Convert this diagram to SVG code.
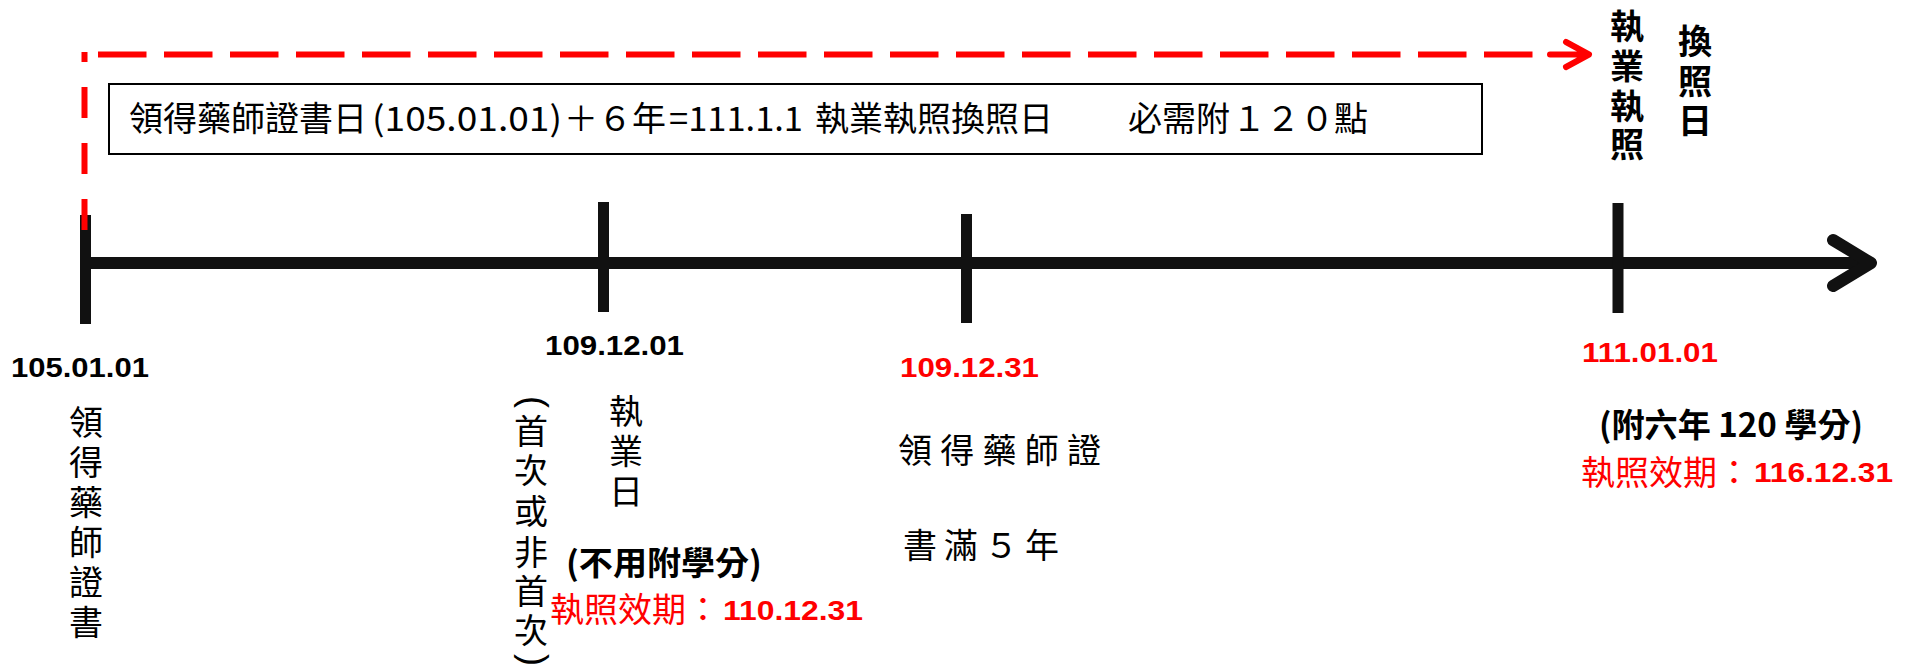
<svg xmlns="http://www.w3.org/2000/svg" width="1907" height="669" viewBox="0 0 1907 669">
<style>
.cjk{font-family:"Noto Sans CJK TC","Noto Sans CJK SC",sans-serif;fill:#000;}
.kai{font-size:34px;}
.date{font-family:"Liberation Sans","Noto Sans CJK TC",sans-serif;font-weight:700;font-size:28px;}
.blk{fill:#000;}
.red{fill:#ff0000;}
.b{font-weight:700;}
.vc{text-anchor:middle;}
.tick{stroke:#111;stroke-width:11;}
.redline{fill:none;stroke:#ff0000;stroke-width:6;}
.paren{font-family:"Liberation Sans",sans-serif;font-size:36px;text-anchor:middle;}
</style>
<rect width="1907" height="669" fill="#fff"/>

<g id="connectors">
  <line x1="80" y1="263" x2="1870" y2="263" stroke="#111" stroke-width="12"/>
  <path d="M1833,240 L1871,263 L1833,286" fill="none" stroke="#111" stroke-width="12" stroke-linecap="round" stroke-linejoin="round"/>
  <line class="tick" x1="85.5" y1="215" x2="85.5" y2="324"/>
  <line class="tick" x1="603.5" y1="202" x2="603.5" y2="312"/>
  <line class="tick" x1="966.5" y1="214" x2="966.5" y2="323"/>
  <line class="tick" x1="1618" y1="203" x2="1618" y2="313"/>
  <path class="redline" d="M84.5,230 L84.5,52" stroke-width="7" stroke-dasharray="31 25"/>
  <path class="redline" d="M98,54.5 L1533,54.5" stroke-dasharray="48.5 17.5"/>
  <path class="redline" d="M1550,54.5 L1586,54.5 M1566,42 L1589,54.5 L1566,67" stroke-linecap="round" stroke-linejoin="round"/>
</g>

<g id="box">
  <rect x="109" y="84" width="1373" height="70" fill="none" stroke="#000" stroke-width="2"/>
  <text class="cjk kai" x="129" y="131">領得藥師證書日</text>
  <text class="cjk kai" x="372" y="131" textLength="190" lengthAdjust="spacingAndGlyphs">(105.01.01)</text>
  <text class="cjk kai" x="564" y="131">＋６年</text>
  <text class="cjk kai" x="669" y="131" textLength="134" lengthAdjust="spacingAndGlyphs">=111.1.1</text>
  <text class="cjk kai" x="815" y="131">執業執照換照日</text>
  <text class="cjk kai" x="1128" y="131">必需附</text>
  <text class="cjk kai" x="1232" y="131" textLength="136" lengthAdjust="spacing">１２０點</text>
</g>

<g id="renew-label">
  <text class="cjk kai b vc" x="1627 1627 1627 1627" y="39 79 119 157">執業執照</text>
  <text class="cjk kai b vc" x="1695 1695 1695" y="54 94 133">換照日</text>
</g>

<g id="node-105">
  <text class="date blk" x="11" y="377" textLength="138" lengthAdjust="spacingAndGlyphs">105.01.01</text>
  <text class="cjk kai vc" x="86 86 86 86 86 86" y="435 475 515 555 595 635">領得藥師證書</text>
</g>

<g id="node-109-12-01">
  <text class="date blk" x="545" y="355" textLength="139" lengthAdjust="spacingAndGlyphs">109.12.01</text>
  <text class="paren" x="0" y="9.3" transform="translate(531,402) rotate(90)">(</text>
  <text class="cjk kai vc" x="531 531 531 531 531 531" y="444 483 524 565 604 643">首次或非首次</text>
  <text class="paren" x="0" y="9.3" transform="translate(531,660) rotate(90)">)</text>
  <text class="cjk kai vc" x="626 626 626" y="424 464 504">執業日</text>
  <text class="cjk b" font-size="33" x="566" y="575" textLength="196" lengthAdjust="spacingAndGlyphs">(不用附學分)</text>
  <text class="cjk red" font-size="34" x="550" y="622">執照效期：</text>
  <text class="date red" x="723" y="620" textLength="140" lengthAdjust="spacingAndGlyphs">110.12.31</text>
</g>

<g id="node-109-12-31">
  <text class="date red" x="900" y="377" textLength="139" lengthAdjust="spacingAndGlyphs">109.12.31</text>
  <text class="cjk kai" x="898" y="463" textLength="203" lengthAdjust="spacing">領得藥師證</text>
  <text class="cjk kai" x="903" y="558" textLength="156" lengthAdjust="spacing">書滿５年</text>
</g>

<g id="node-111">
  <text class="date red" x="1582" y="362" textLength="136" lengthAdjust="spacingAndGlyphs">111.01.01</text>
  <text class="cjk b" font-size="33" x="1599" y="437" textLength="264" lengthAdjust="spacingAndGlyphs">(附六年 120 學分)</text>
  <text class="cjk red" font-size="34" x="1581" y="485">執照效期：</text>
  <text class="date red" x="1754" y="482" textLength="139" lengthAdjust="spacingAndGlyphs">116.12.31</text>
</g>
</svg>
